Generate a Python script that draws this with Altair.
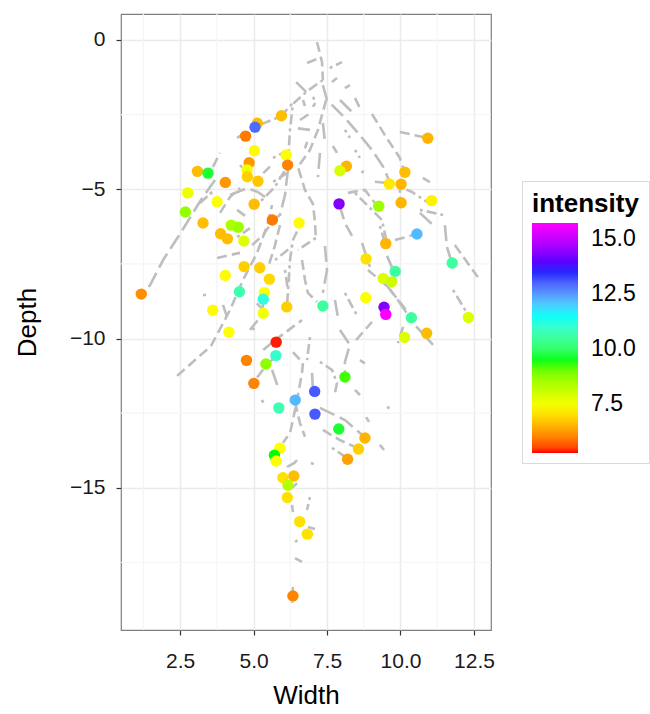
import altair as alt
import pandas as pd

# ---- points (Width, Depth, intensity) ----
pt_x = [5.95, 5.13, 5.05, 4.73, 5.03, 6.11, 6.16, 4.85, 4.78, 4.79, 3.09, 3.45, 4.04, 5.15, 2.76, 3.76, 5.02, 2.68,
        10.93, 8.16, 7.94, 10.15, 9.62, 10.02, 11.06, 10.02, 7.91, 9.26, 3.28, 4.24, 4.48, 5.64, 6.55, 3.88, 4.11, 4.67,
        4.68, 5.21, 4.04, 5.54, 1.18, 4.52, 5.37, 5.33, 3.61, 5.33, 6.13, 4.16, 5.77, 5.76, 4.76, 5.42, 5.01, 7.08, 6.42,
        10.56, 9.50, 8.83, 11.76, 9.82, 9.41, 9.70, 8.82, 7.36, 9.44, 9.50, 10.37, 12.31, 10.89, 10.14, 8.11, 5.86, 7.09,
        7.90, 8.79, 8.57, 8.20, 5.90, 5.71, 5.77, 6.00, 6.37, 6.17, 6.15, 6.57, 6.83, 6.34]
pt_y = [-2.54, -2.79, -2.92, -3.22, -3.71, -3.85, -4.19, -4.11, -4.35, -4.58, -4.40, -4.46, -4.77, -4.73, -5.12, -5.42,
        -5.50, -5.76, -3.29, -4.23, -4.38, -4.43, -4.82, -4.83, -5.38, -5.45, -5.49, -5.57, -6.13, -6.20, -6.27, -6.03,
        -6.13, -6.49, -6.66, -6.73, -7.59, -7.63, -7.89, -8.01, -8.51, -8.43, -8.46, -8.68, -9.05, -9.15, -8.94, -9.79,
        -10.12, -10.57, -10.73, -10.85, -11.50, -11.77, -12.06, -6.50, -6.82, -7.33, -7.47, -7.75, -7.99, -8.10, -8.63,
        -8.91, -8.95, -9.19, -9.30, -9.29, -9.82, -9.96, -11.29, -12.32, -12.53, -13.03, -13.33, -13.70, -14.04, -13.67,
        -13.91, -14.10, -14.66, -14.60, -14.91, -15.32, -16.13, -16.55, -18.62]
pt_int = [6.6, 6.6, 12.95, 5.9, 7.3, 7.4, 6.0, 6.2, 7.6, 6.8, 6.6, 9.6, 6.2, 6.7, 7.6, 7.4, 6.6, 8.7,
          6.5, 6.5, 7.9, 6.6, 7.1, 6.5, 7.2, 6.5, 14.3, 8.6, 6.6, 8.4, 8.6, 5.9, 7.3, 6.6, 6.6, 7.8,
          6.8, 6.8, 7.3, 6.9, 6.1, 10.7, 7.4, 11.2, 7.3, 7.5, 6.8, 7.35, 5.3, 11.0, 6.0, 8.75, 6.0, 13.1, 12.2,
          12.2, 6.5, 7.0, 10.5, 10.5, 7.8, 8.05, 7.4, 10.5, 14.35, 15.7, 10.5, 7.8, 6.6, 7.8, 9.3, 10.7, 13.1,
          9.6, 6.5, 6.8, 6.3, 7.35, 9.45, 7.4, 7.0, 6.6, 8.3, 7.0, 7.0, 7.0, 6.0]

# ---- root segments (polylines in data units) ----
roots = [
    [(7.16, -0.07), (7.33, -0.74), (7.36, -1.34)],
    [(7.36, -1.34), (6.79, -1.74), (6.34, -2.14), (6.24, -3.01), (6.17, -4.12)],
    [(7.36, -1.51), (7.50, -2.01), (8.11, -2.61), (8.55, -3.11), (9.03, -3.68), (9.44, -4.29), (9.64, -4.79)],
    [(9.03, -2.48), (9.51, -3.25), (9.98, -3.95), (10.12, -4.39)],
    [(6.31, -2.14), (5.94, -2.55), (5.29, -2.81)],
    [(6.79, -1.74), (6.45, -1.41)],
    [(6.82, -0.77), (7.26, -0.60)],
    [(7.59, -0.94), (8.01, -0.74)],
    [(7.36, -2.78), (7.43, -3.42)],
    [(7.47, -2.01), (7.19, -3.01), (6.92, -3.68), (6.51, -4.25), (6.75, -5.02), (7.02, -5.49), (7.09, -6.09), (7.12, -6.63)],
    [(7.12, -6.63), (6.51, -7.03)],
    [(7.43, -6.90), (7.50, -7.70), (7.36, -8.47)],
    [(6.65, -7.37), (6.75, -8.04), (6.85, -8.47), (7.16, -8.77)],
    [(6.07, -7.70), (6.17, -8.37)],
    [(7.91, -5.49), (8.11, -6.13), (8.35, -6.56)],
    [(8.21, -5.12), (8.79, -5.02), (9.13, -5.46)],
    [(8.45, -5.12), (9.37, -6.03), (9.57, -6.93)],
    [(8.69, -6.80), (8.96, -7.60)],
    [(8.89, -7.70), (9.57, -8.27), (10.19, -9.04), (10.43, -9.48), (11.17, -10.28)],
    [(8.11, -8.47), (8.55, -9.28)],
    [(7.77, -8.71), (7.87, -9.28)],
    [(9.98, -3.08), (10.90, -3.28)],
    [(10.66, -5.69), (11.45, -5.86)],
    [(11.51, -6.20), (11.58, -6.93), (11.75, -7.47)],
    [(11.85, -6.87), (12.63, -7.94)],
    [(11.79, -8.37), (12.30, -9.21)],
    [(10.66, -5.79), (11.11, -6.20)],
    [(9.81, -6.70), (10.56, -6.50)],
    [(9.30, -6.23), (9.47, -6.80)],
    [(9.54, -7.23), (9.75, -7.70)],
    [(10.09, -9.61), (9.91, -10.15)],
    [(9.98, -4.92), (10.39, -5.09), (10.90, -5.42)],
    [(10.76, -4.62), (11.00, -4.76)],
    [(9.13, -4.75), (9.60, -4.79)],
    [(9.98, -5.02), (9.98, -5.46)],
    [(3.69, -4.69), (3.21, -5.36), (2.43, -6.60), (1.92, -7.37), (1.48, -8.21), (1.24, -8.47)],
    [(2.40, -11.25), (3.55, -10.25), (4.20, -9.04), (4.64, -8.04), (5.12, -7.13), (5.46, -6.23), (5.63, -5.53)],
    [(3.52, -5.09), (3.76, -5.46)],
    [(4.20, -5.19), (4.78, -4.96), (5.15, -5.09)],
    [(3.76, -7.30), (4.20, -7.20), (4.54, -7.13)],
    [(3.28, -8.54), (3.52, -8.54)],
    [(3.96, -8.87), (4.10, -9.28)],
    [(4.44, -5.69), (4.81, -5.96)],
    [(4.44, -6.60), (4.88, -6.30)],
    [(4.44, -3.28), (4.71, -3.11)],
    [(3.62, -4.25), (3.86, -3.78)],
    [(5.66, -3.95), (6.00, -3.78)],
    [(5.15, -5.09), (5.39, -5.26)],
    [(3.18, -5.46), (3.59, -5.09)],
    [(6.17, -4.19), (5.73, -4.92), (5.29, -5.36), (5.02, -5.49)],
    [(6.17, -4.35), (6.07, -5.19), (5.90, -5.86), (5.66, -6.03)],
    [(5.90, -6.20), (5.73, -6.87), (5.49, -7.64)],
    [(6.58, -6.20), (6.34, -6.70), (6.24, -7.37), (6.14, -8.87)],
    [(5.33, -8.71), (5.29, -9.21), (4.88, -9.71)],
    [(5.33, -10.38), (5.83, -9.98), (6.65, -9.38)],
    [(4.98, -11.49), (5.39, -10.95), (5.80, -10.55)],
    [(5.63, -11.05), (5.83, -11.62)],
    [(6.34, -10.45), (6.68, -10.82), (6.65, -11.15), (6.48, -12.06), (6.34, -12.73), (6.24, -13.16), (6.00, -13.49)],
    [(6.92, -9.95), (6.82, -10.72)],
    [(6.99, -11.15), (7.02, -11.72)],
    [(6.41, -12.12), (6.58, -12.83), (6.75, -13.29)],
    [(7.26, -10.78), (7.67, -11.05), (7.84, -11.49), (7.77, -11.82)],
    [(7.26, -12.32), (8.11, -12.73), (8.62, -13.16), (8.79, -13.33)],
    [(7.36, -13.06), (7.94, -13.40), (8.52, -13.66)],
    [(7.67, -13.66), (8.18, -14.00)],
    [(7.94, -9.71), (8.28, -10.21), (8.11, -10.78), (8.11, -11.29)],
    [(8.49, -10.05), (8.79, -9.71), (9.03, -9.44)],
    [(9.54, -12.29), (9.71, -12.39)],
    [(9.30, -13.56), (9.44, -13.73)],
    [(8.83, -12.63), (8.93, -12.79)],
    [(6.95, -14.17), (7.16, -14.23)],
    [(6.14, -14.30), (6.38, -14.17), (6.48, -14.07)],
    [(6.48, -14.84), (6.31, -15.00)],
    [(6.92, -15.31), (6.82, -15.74)],
    [(6.31, -15.57), (6.34, -15.81)],
    [(6.85, -16.31), (7.09, -16.38)],
    [(6.41, -16.81), (6.58, -16.71)],
    [(6.41, -17.35), (6.65, -17.48)],
    [(6.34, -18.32), (6.31, -18.85)],
    [(5.28, -12.06), (5.39, -12.22)],
    [(7.67, -1.41), (7.84, -1.27)],
    [(8.11, -1.61), (8.28, -1.51)],
    [(8.69, -4.46), (8.79, -4.25)],
    [(7.26, -3.78), (7.19, -4.59)],
    [(6.68, -2.01), (6.75, -2.21)],
    [(7.02, -1.91), (7.12, -2.08), (7.02, -2.24)],
    [(6.51, -2.96), (6.92, -3.01)],
    [(3.86, -5.79), (4.20, -5.26), (4.54, -4.96)],
    [(8.11, -3.01), (8.28, -3.28)],
    [(6.82, -3.41), (6.75, -3.63)],
    [(4.95, -6.87), (5.33, -6.53), (5.56, -6.20)],
    [(4.54, -4.19), (4.81, -4.46)],
    [(8.62, -10.72), (8.79, -10.83)],
    [(8.45, -11.72), (8.62, -11.89)],
    [(5.73, -7.37), (6.30, -6.92)],
    [(9.44, -8.10), (9.91, -8.71), (10.32, -9.31)],
    [(6.58, -2.68), (6.92, -2.46)],
    [(5.67, -4.75), (6.13, -4.46)],
    [(5.33, -4.46), (5.56, -4.24)],
    [(5.11, -8.82), (5.28, -8.99)],
    [(4.94, -9.66), (5.11, -9.71)],
    [(7.94, -2.01), (8.35, -2.41)],
    [(8.45, -1.94), (8.62, -2.28)],
    [(8.45, -3.68), (8.62, -3.95)],
    [(7.70, -3.55), (7.84, -3.78)],
]
line_types = ["dashed", "dotdash", "longdash"]

x_breaks = [2.5, 5.0, 7.5, 10.0, 12.5]
y_breaks = [0, -5, -10, -15]
x_minor = [1.25, 3.75, 6.25, 8.75, 11.25]
y_minor = [-2.5, -7.5, -12.5, -17.5]

col_domain = [5.25, 7.35, 9.45, 11.55, 13.65, 15.75]
col_range = ["#FF0000", "#FFFF00", "#00FF00", "#00FFFF", "#0000FF", "#FF00FF"]

# ---- tables ----
rows = []
for i, r in enumerate(roots):
    for j, (x, y) in enumerate(r):
        rows.append({"root": i, "ord": j, "x": x, "y": y, "lt": line_types[i % 3]})
lines_df = pd.DataFrame(rows)
pts_df = pd.DataFrame({"x": pt_x, "y": pt_y, "intensity": pt_int})
gx_df = pd.DataFrame({"x": x_minor})
gy_df = pd.DataFrame({"y": y_minor})

xs = alt.Scale(domain=[0.49, 13.08], nice=False, zero=False)
ys = alt.Scale(domain=[-19.76, 0.87], nice=False, zero=False)

xaxis = alt.Axis(values=x_breaks, format=".1f", title="Width", grid=True, gridColor="#EBEBEB", gridWidth=1.5,
                 domain=False, tickColor="#333333", tickSize=5, tickWidth=1.2, labelFontSize=21,
                 labelColor="#1A1A1A", labelPadding=15, titleFontSize=26, titleFontWeight="normal",
                 titleColor="#000000", titlePadding=11)
yaxis = alt.Axis(values=y_breaks, format="d", title="Depth", grid=True, gridColor="#EBEBEB", gridWidth=1.5,
                 domain=False, tickColor="#333333", tickSize=5, tickWidth=1.2, labelFontSize=21,
                 labelColor="#1A1A1A", labelPadding=11, titleFontSize=26, titleFontWeight="normal",
                 titleColor="#000000", titlePadding=29)

X = alt.X("x:Q", scale=xs, axis=xaxis)
Y = alt.Y("y:Q", scale=ys, axis=yaxis)

minor_x = alt.Chart(gx_df).mark_rule(color="#F5F5F5", strokeWidth=1.2).encode(x=X)
minor_y = alt.Chart(gy_df).mark_rule(color="#F5F5F5", strokeWidth=1.2).encode(y=Y)

lines = alt.Chart(lines_df).mark_line(color="#BEBEBE", strokeWidth=2.6, strokeCap="butt").encode(
    x=X, y=Y, detail="root:N", order="ord:Q",
    strokeDash=alt.StrokeDash("lt:N", scale=alt.Scale(domain=line_types,
                                                      range=[[10, 5], [3, 4, 10, 4], [16, 6]]), legend=None),
)

points = alt.Chart(pts_df).mark_circle(size=130, opacity=1).encode(
    x=X, y=Y,
    color=alt.Color("intensity:Q", scale=alt.Scale(domain=col_domain, range=col_range, interpolate="lab"),
                    legend=alt.Legend(title="intensity", orient="none", legendX=401, legendY=167,
                                      direction="vertical", gradientLength=230, gradientThickness=46,
                                      values=[7.5, 10, 12.5, 15], format=".1f", labelFontSize=23,
                                      labelColor="#000000", titleFontSize=26, titleFontWeight="bold",
                                      titleColor="#000000", labelOffset=13, padding=10,
                                      strokeColor="#D9D9D9", titlePadding=6, gradientStrokeWidth=0)),
)

chart = alt.layer(minor_x, minor_y, lines, points).properties(
    width=370, height=616,
    autosize=alt.AutoSizeParams(type="none"),
    padding={"left": 121, "top": 14, "right": 159, "bottom": 84},
).configure(font="Liberation Sans").configure_view(stroke="#7F7F7F", strokeWidth=1.2)

chart.save("out.html", embed_options={"renderer": "svg", "actions": False})
